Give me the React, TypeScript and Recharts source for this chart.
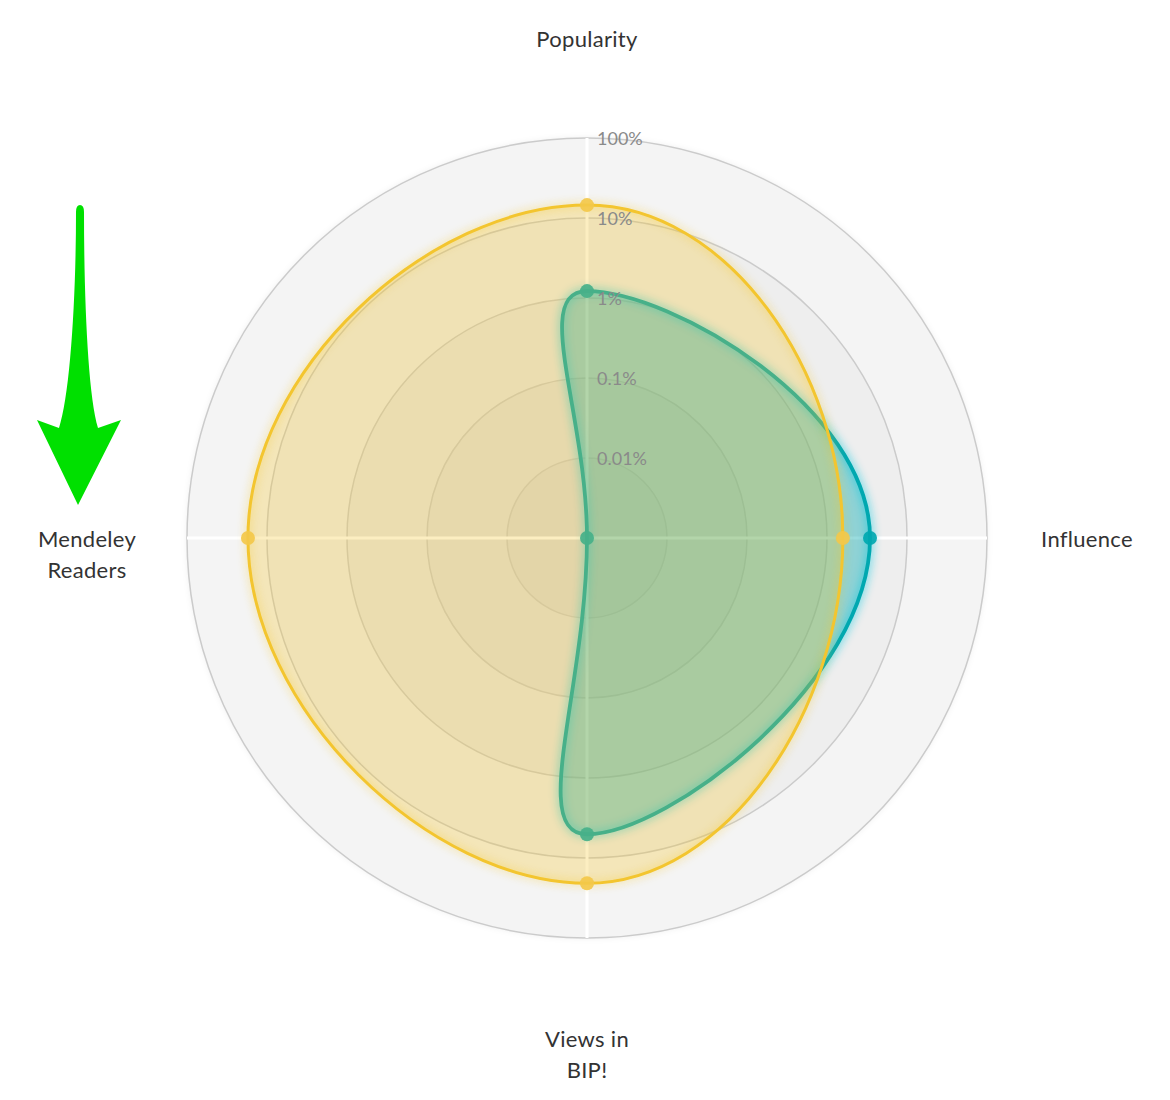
import React from 'react';
import { RadarChart, Radar, PolarGrid, PolarAngleAxis, PolarRadiusAxis } from 'recharts';

// ---- data ----
const categories = ['Popularity', 'Influence', 'Views in BIP!', 'Mendeley Readers'];
const categoryLines: string[][] = [['Popularity'], ['Influence'], ['Views in', 'BIP!'], ['Mendeley', 'Readers']];
// values in percent (log radial scale)
const tealValues = [1.22, 3.45, 5.05, 0.001];
const yellowValues = [14.5, 1.58, 20.7, 17.3];
const radiusTicks = [0.01, 0.1, 1, 10, 100];
const radiusTickLabels = ['0.01%', '0.1%', '1%', '10%', '100%'];
const radiusDomain = [0.001, 100];

const data = categories.map((c, i) => ({
  category: c,
  teal: tealValues[i],
  yellow: yellowValues[i],
}));

// ---- layout ----
const W = 1150;
const H = 1080;
const CX = 579;
const CY = 530;
const R = 400;
const LABEL_R = 500;
const FONT = 'Lato, "Noto Sans", sans-serif';

function smoothClosedPath(points: { x: number; y: number }[], t = 0.5) {
  const n = points.length;
  if (!n) return '';
  const ctrl = points.map((p, i) => {
    const prev = points[(i - 1 + n) % n];
    const next = points[(i + 1) % n];
    const d01 = Math.hypot(p.x - prev.x, p.y - prev.y);
    const d12 = Math.hypot(next.x - p.x, next.y - p.y);
    const sum = d01 + d12 || 1;
    const fa = (t * d01) / sum;
    const fb = (t * d12) / sum;
    return {
      px: p.x - fa * (next.x - prev.x),
      py: p.y - fa * (next.y - prev.y),
      nx: p.x + fb * (next.x - prev.x),
      ny: p.y + fb * (next.y - prev.y),
    };
  });
  let d = `M${points[0].x},${points[0].y}`;
  for (let i = 0; i < n; i++) {
    const j = (i + 1) % n;
    d += ` C${ctrl[i].nx},${ctrl[i].ny} ${ctrl[j].px},${ctrl[j].py} ${points[j].x},${points[j].y}`;
  }
  return d + ' Z';
}

const makeShape = (stroke: string, fill: string, glow: string, sw: number, dotFill: string) => (props: any) => {
  const pts = props.points || [];
  const d = smoothClosedPath(pts, 0.5);
  return (
    <g>
      <path d={d} fill={fill} stroke="none" />
      <path
        d={d}
        fill="none"
        stroke={stroke}
        strokeWidth={sw}
        strokeLinejoin="round"
        style={{ filter: `drop-shadow(0 0 5px ${glow})` }}
      />
      {pts.map((p: any, i: number) => (
        <circle key={i} cx={p.x} cy={p.y} r={7} fill={dotFill} fillOpacity={0.92} />
      ))}
    </g>
  );
};

const tealShape = makeShape('#00a8b0', 'rgba(0,168,176,0.40)', 'rgba(0,200,225,0.95)', 3.8, '#00a8b0');
const yellowShape = makeShape('#f3c52f', 'rgba(245,198,40,0.29)', 'rgba(245,200,40,0.7)', 3, '#f3c84a');

const RadiusTick = (props: any) => {
  const { x, y, payload } = props;
  const idx = radiusTicks.indexOf(payload.value);
  const label = idx >= 0 ? radiusTickLabels[idx] : String(payload.value);
  return (
    <text x={x + 10} y={y} dominantBaseline="central" textAnchor="start" fill="#8a8a8a" fontSize={18} fontFamily={FONT}>
      {label}
    </text>
  );
};

const AngleTick = (props: any) => {
  const { payload, index } = props;
  const angle = payload.coordinate;
  const rad = (-angle * Math.PI) / 180;
  const lx = CX + LABEL_R * Math.cos(rad);
  const ly = CY + LABEL_R * Math.sin(rad);
  const lines = categoryLines[index] || [payload.value];
  return (
    <text
      x={lx}
      y={ly}
      textAnchor="middle"
      dominantBaseline="central"
      fill="#333333"
      fontSize={22}
      letterSpacing={0.3}
      fontFamily={FONT}
    >
      {lines.map((l, i) => (
        <tspan key={i} x={lx} dy={i === 0 ? 0 : 31}>
          {l}
        </tspan>
      ))}
    </text>
  );
};

const Background = () => {
  const radii = [R, (R * 4) / 5, (R * 3) / 5, (R * 2) / 5, R / 5];
  return (
    <svg width={W} height={H} style={{ position: 'absolute', left: 0, top: 0 }}>
      {radii.map((r, i) => (
        <circle
          key={i}
          cx={CX}
          cy={CY}
          r={r}
          fill={i === 0 ? '#f4f4f4' : 'rgba(0,0,0,0.022)'}
          style={{ filter: 'drop-shadow(0 0 3px rgba(0,0,0,0.07))' }}
        />
      ))}
    </svg>
  );
};

const Arrow = () => (
  <svg width={W} height={H} style={{ position: 'absolute', left: -8, top: -8, pointerEvents: 'none' }}>
    <path
      d="M76 212 Q76 205 80 205 Q84 205 84 212 C84 300 88 395 98 428 L121 420 L78 505 L37 420 L59 428 C70 395 76 300 76 212 Z"
      fill="#00e000"
    />
  </svg>
);

export default function App() {
  return (
    <div style={{ position: 'relative', width: W, height: H }}>
      <Background />
      <div style={{ position: 'absolute', left: 0, top: 0 }}>
        <RadarChart width={W} height={H} data={data} cx={CX} cy={CY} outerRadius={R} innerRadius={0} margin={{ top: 0, right: 0, bottom: 0, left: 0 }}>
          <PolarGrid gridType="circle" radialLines={false} stroke="#cbcbcb" strokeWidth={1.5} />
          <PolarGrid gridType="circle" polarRadius={[]} radialLines stroke="#ffffff" strokeWidth={3} />
          <PolarRadiusAxis
            angle={90}
            type="number"
            scale="log"
            domain={radiusDomain}
            ticks={radiusTicks}
            allowDataOverflow
            axisLine={false}
            tickLine={false}
            tick={<RadiusTick />}
          />
          <PolarAngleAxis dataKey="category" tick={<AngleTick />} tickLine={false} axisLine={false} />
          <Radar
            name="teal"
            dataKey="teal"
            stroke="#00a8b0"
            fill="#00a8b0"
            shape={tealShape}
            dot={false}
            isAnimationActive={false}
          />
          <Radar
            name="yellow"
            dataKey="yellow"
            stroke="#f3c52f"
            fill="#f5c842"
            shape={yellowShape}
            dot={false}
            isAnimationActive={false}
          />
        </RadarChart>
      </div>
      <Arrow />
    </div>
  );
}
